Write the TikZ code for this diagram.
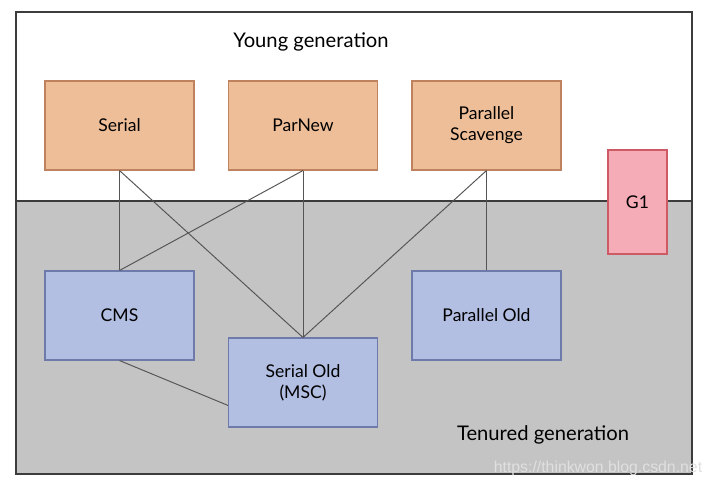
\documentclass[tikz,border=0pt]{standalone}
\usepackage{fontspec}
\setmainfont{Lato}
\usepackage{tikz}
\usetikzlibrary{calc}

\definecolor{frameline}{RGB}{60,60,60}
\definecolor{oldgray}{RGB}{196,196,196}
\definecolor{linkgray}{RGB}{85,85,85}
\definecolor{youngfill}{RGB}{238,190,152}
\definecolor{youngdraw}{RGB}{190,130,95}
\definecolor{oldfill}{RGB}{178,190,226}
\definecolor{olddraw}{RGB}{110,122,170}
\definecolor{gonefill}{RGB}{246,172,182}
\definecolor{gonedraw}{RGB}{205,90,100}

\tikzset{
	youngbox/.style={draw=youngdraw, fill=youngfill, line width=0.6pt, minimum width=2.98cm, minimum height=1.78cm, align=center, font=\normalsize},
	oldbox/.style={draw=olddraw, fill=oldfill, line width=0.6pt, minimum width=2.98cm, minimum height=1.78cm, align=center, font=\normalsize},
	gonebox/.style={draw=gonedraw, fill=gonefill, line width=0.6pt, minimum width=1.18cm, minimum height=2.08cm, font=\normalsize},
	link/.style={draw=linkgray, line width=0.55pt}
}

\begin{document}
\begin{tikzpicture}[x=0.02cm, y=-0.02cm]
		%%%%% START %%%%%
		
		\useasboundingbox (0, 0) rectangle (713, 487);
		
		\fill[oldgray] (16, 201) rectangle (692, 474);
		\draw[frameline, line width=0.8pt] (16, 12) rectangle (692, 474);
		\draw[frameline, line width=0.8pt] (16, 201) -- (692, 201);
		
		\node[font=\fontsize{11.5}{14}\selectfont] (younglabel) at (311, 42) {Young generation};
		\node[font=\fontsize{11.5}{14}\selectfont] (oldlabel) at (543, 435) {Tenured generation};
		
		\node[youngbox] (serial) at (119.5, 125.5) {Serial};
		\node[youngbox] (parnew) at (303, 125.5) {ParNew};
		\node[youngbox] (scavenge) at (486.5, 125.5) {Parallel\\Scavenge};
		
		\node[gonebox] (gone) at (637.5, 202) {G1};
		
		\node[oldbox] (cms) at (119.5, 315.5) {CMS};
		\node[oldbox] (serialold) at (303, 382.5) {Serial Old\\(MSC)};
		\node[oldbox] (parold) at (486.5, 315.5) {Parallel Old};
		
		\draw[link] (serial.south) -- (cms.north);
		\draw[link] (serial.south) -- (serialold.north);
		\draw[link] (parnew.south) -- (cms.north);
		\draw[link] (parnew.south) -- (serialold.north);
		\draw[link] (scavenge.south) -- (serialold.north);
		\draw[link] (scavenge.south) -- (parold.north);
		\draw[link] (cms.south) -- (serialold.197);
		
		\node[font=\fontspec{Liberation Sans}\small, color=white!88!black] (mark) at (598, 468) {https://thinkwon.blog.csdn.net};
		
		%%%%% END %%%%%
\end{tikzpicture}
\end{document}
